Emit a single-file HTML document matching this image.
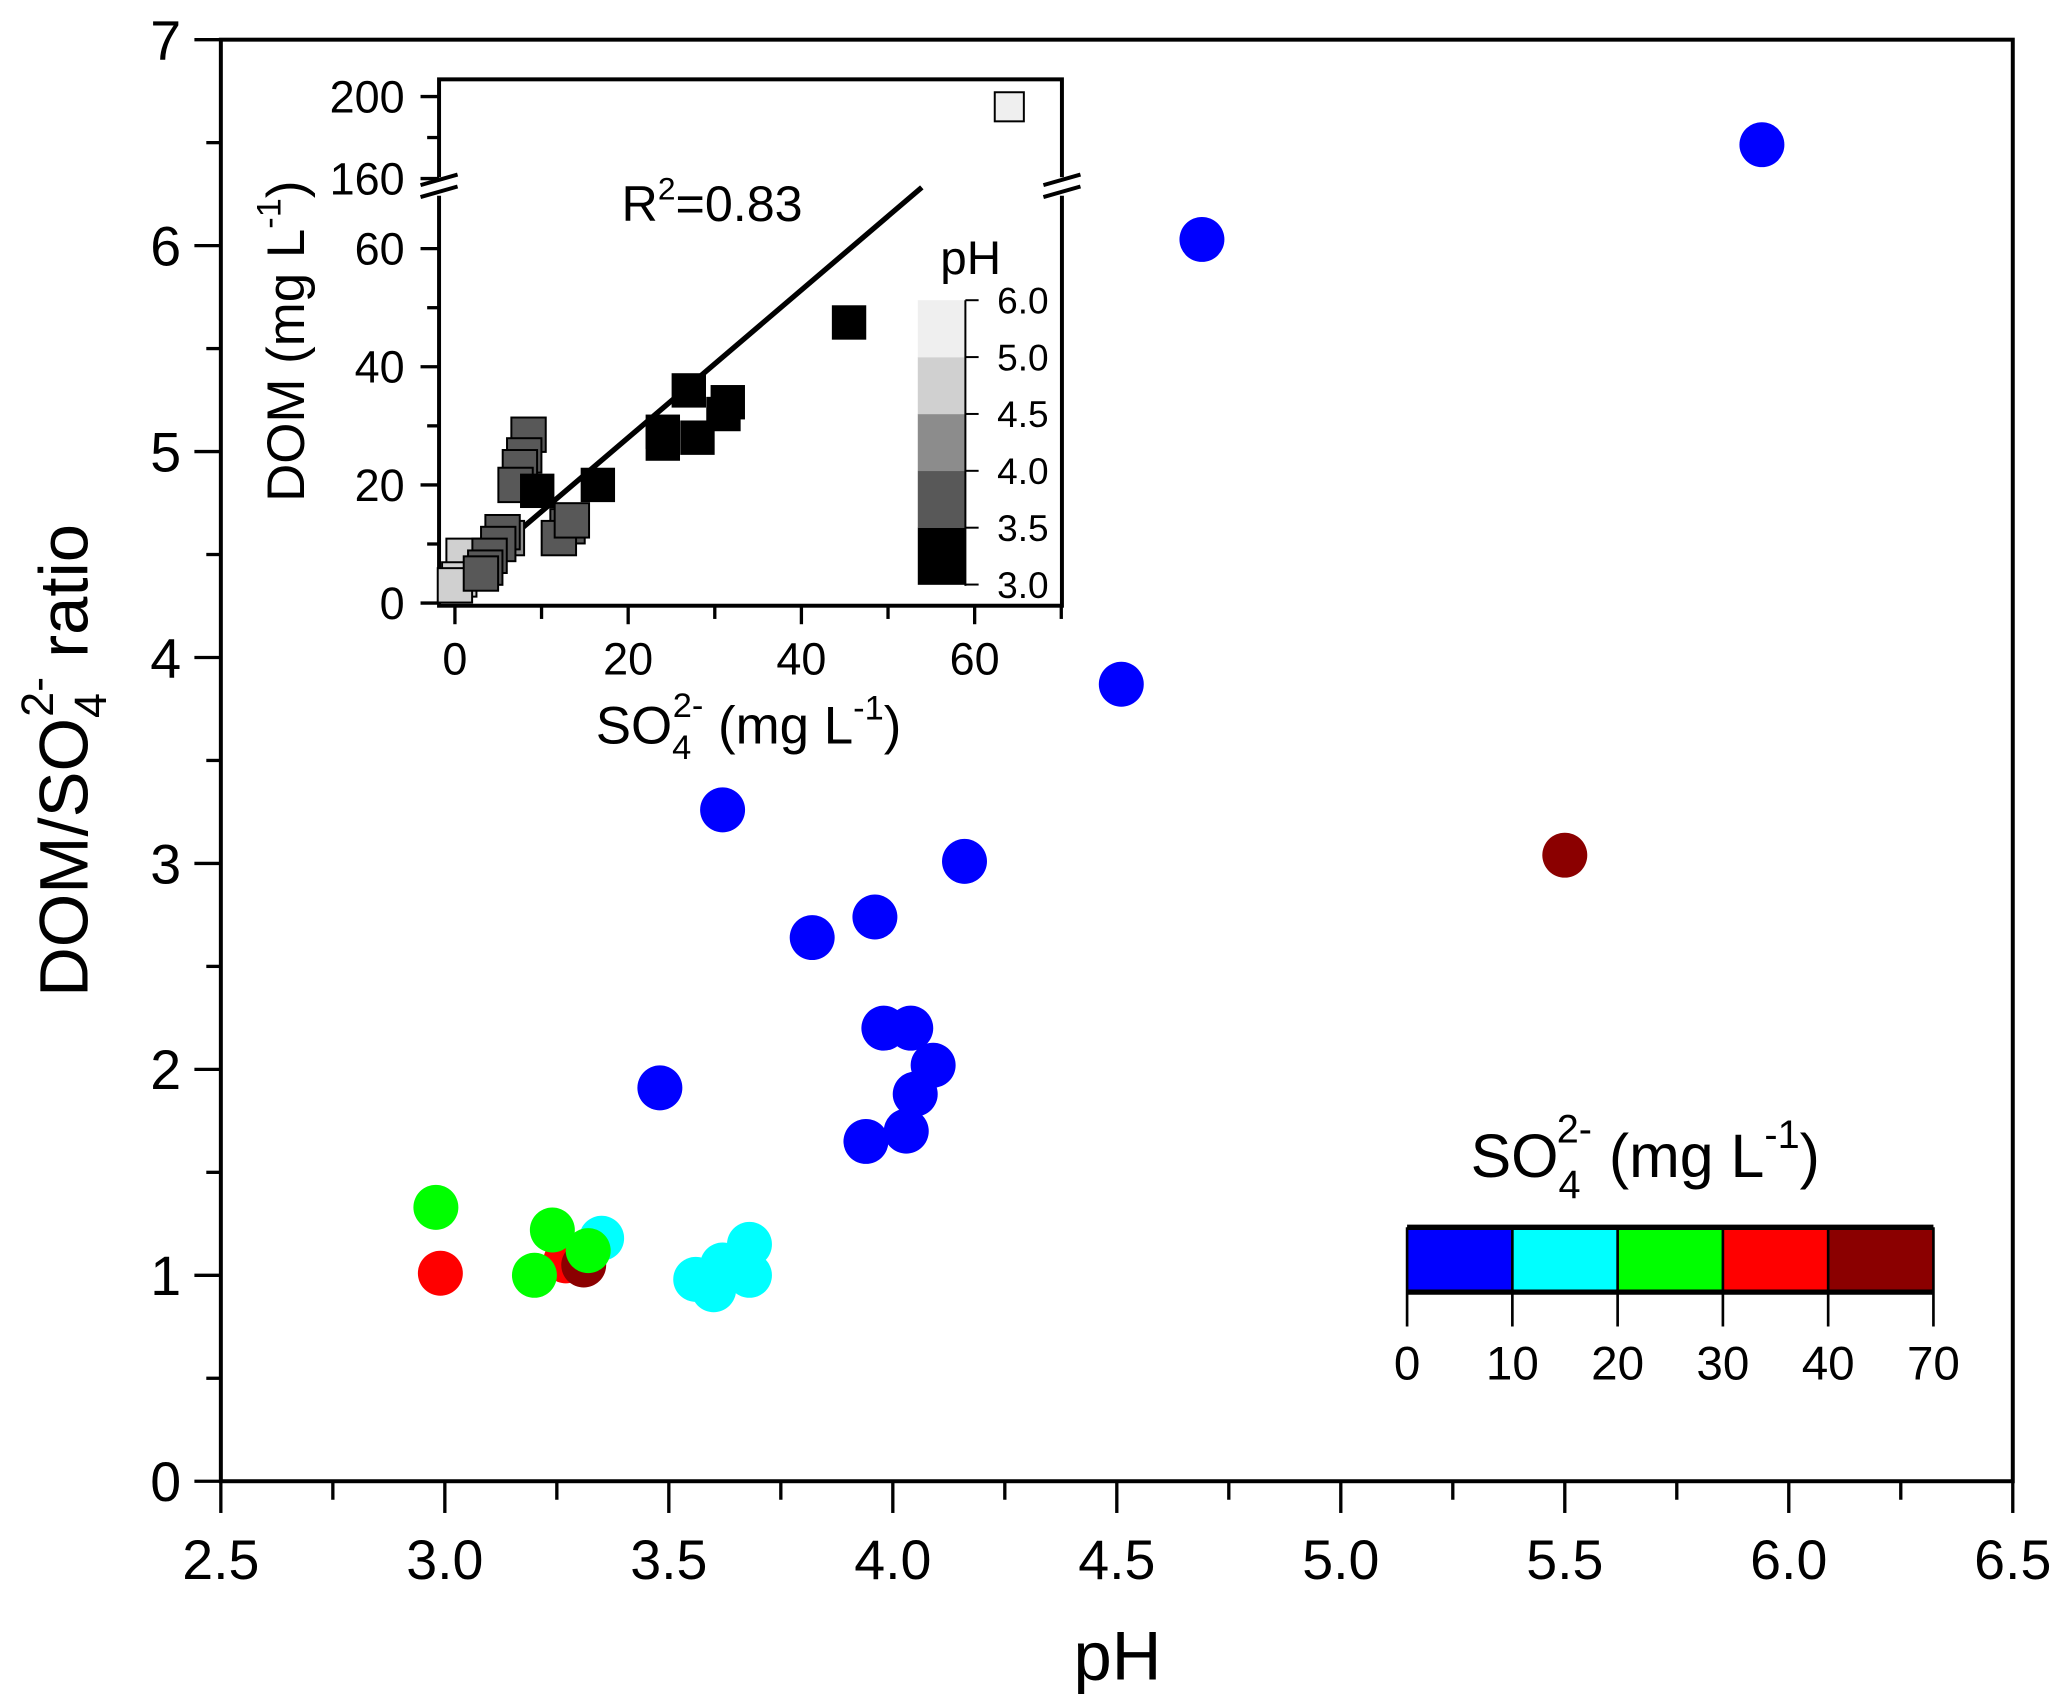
<!DOCTYPE html>
<html><head><meta charset="utf-8"><style>
html,body{margin:0;padding:0;background:#fff}
svg{display:block;font-family:"Liberation Sans",Arial,sans-serif}
</style></head><body>
<svg id="chart" width="2067" height="1705" viewBox="0 0 1563 1289.2" preserveAspectRatio="none" xmlns="http://www.w3.org/2000/svg">
<g id="main"></g>
<g id="inset"></g>
<g id="legend"></g>
</svg>
<script>
// Main chart data
const mainPH = [5.94,4.69,4.51,3.62,4.16,3.96,3.82,3.98,4.04,4.09,4.05,3.48,3.94,4.03, 3.35,3.56,3.60,3.62,3.68,3.68, 2.99,3.27, 5.50,3.31, 2.98,3.24,3.20,3.32];
const mainRatio = [6.49,6.03,3.87,3.26,3.01,2.74,2.64,2.20,2.20,2.02,1.88,1.91,1.65,1.70, 1.18,0.98,0.93,1.05,1.15,1.00, 1.01,1.07, 3.04,1.05, 1.33,1.22,1.00,1.12];
const mainClass = [0,0,0,0,0,0,0,0,0,0,0,0,0,0, 1,1,1,1,1,1, 3,3, 4,4, 2,2,2,2];
const classColors = ["#0000ff","#00ffff","#00ff00","#ff0000","#8b0000"];
const legendLabels = ["0","10","20","30","40","70"];
const xTicks = [2.5,3.0,3.5,4.0,4.5,5.0,5.5,6.0,6.5];
const yTicks = [0,1,2,3,4,5,6,7];
// Inset data
const insetSO4 = [45.5,27,24,24,28,31,31.5,16.5,9.5, 8.5,8,7.5,7,13,12,13.5,5.5,5,4,3.5,3, 6, 1,0.5,0, 64];
const insetDOM = [47.5,36,29,27,28,32,34,20,19, 28.5,25,23,20,13,11,14,12,10,8,6,5, 11, 8,4,3, 195];
const insetPH = [3.2,3.2,3.2,3.2,3.2,3.2,3.2,3.2,3.2, 3.7,3.7,3.7,3.7,3.7,3.7,3.7,3.7,3.7,3.7,3.7,3.7, 4.2, 4.7,4.7,4.7, 5.5];
const insetXTicks = [0,20,40,60];
const insetYTicksLow = [0,20,40,60];
const insetYTicksHigh = [160,200];
const phBands = [3.0,3.5,4.0,4.5,5.0,6.0];
const phBandColors = ["#000000","#585858","#8c8c8c","#d0d0d0","#efefef"];
const fitSlope = 1.25, fitIntercept = 3;

const NS="http://www.w3.org/2000/svg";
function mk(parent,tag,attrs,text){const e=document.createElementNS(NS,tag);for(const k in attrs)e.setAttribute(k,attrs[k]);if(text!==undefined)e.textContent=text;parent.appendChild(e);return e;}

const L=167,R=1522,T=30,B=1120;
const xs=v=>L+(v-2.5)/4*(R-L);
const ys=v=>B-v/7*(B-T);
const main=document.getElementById('main');
let fr=mk(main,'rect',{x:L,y:T,width:R-L,height:B-T,fill:'none',stroke:'#000','stroke-width':3});


for(let i=0;i<xTicks.length;i++){
  const x=xs(xTicks[i]);
  mk(main,'line',{x1:x,y1:B,x2:x,y2:B+24,stroke:'#000','stroke-width':2.5});
  if(i<xTicks.length-1){const xm=xs(xTicks[i]+0.25);mk(main,'line',{x1:xm,y1:B,x2:xm,y2:B+14,stroke:'#000','stroke-width':2.5});}
  const t=mk(main,'text',{x:x,y:B+74,'font-size':42,'text-anchor':'middle'},xTicks[i].toFixed(1));
  
  
}
for(let i=0;i<yTicks.length;i++){
  const y=ys(yTicks[i]);
  mk(main,'line',{x1:L-20,y1:y,x2:L,y2:y,stroke:'#000','stroke-width':2.5});
  if(i<yTicks.length-1){const ym=ys(yTicks[i]+0.5);mk(main,'line',{x1:L-11,y1:ym,x2:L,y2:ym,stroke:'#000','stroke-width':2.5});}
  const t=mk(main,'text',{x:L-30,y:y+15,'font-size':42,'text-anchor':'end'},String(yTicks[i]));
  
  
}
let xt=mk(main,'text',{x:845,y:1270,'font-size':52,'text-anchor':'middle'},'pH');


let yt=mk(main,'text',{transform:'translate(66,575) rotate(-90)','font-size':52,'text-anchor':'middle'});


yt.innerHTML='DOM/SO<tspan font-size="34" dy="14">4</tspan><tspan font-size="34" dy="-40" dx="-18">2-</tspan><tspan dy="26"> ratio</tspan>';
const order=[0,1,3,4,2];
for(const c of order){
  for(let i=0;i<mainPH.length;i++){
    if(mainClass[i]!==c)continue;
    const p=mk(main,'circle',{cx:xs(mainPH[i]),cy:ys(mainRatio[i]),r:17,fill:classColors[c]});
    
    
  }
}

const inset=document.getElementById('inset');
const IL=332,IR=803,IT=60,IB=458;
const ix=v=>344+v/60*(737-344);
const iyLow=v=>456-v/60*(456-188);
const iyHigh=v=>135-(v-160)/40*(135-73);
const iy=v=>v>100?iyHigh(v):iyLow(v);
let ifr=mk(inset,'rect',{x:IL,y:IT,width:IR-IL,height:IB-IT,fill:'#fff',stroke:'#000','stroke-width':3});


for(const bx of [IL,IR]){
  mk(inset,'rect',{x:bx-12,y:134,width:24,height:14,fill:'#fff'});
  mk(inset,'line',{x1:bx-14,y1:140,x2:bx+14,y2:132,stroke:'#000','stroke-width':3});
  mk(inset,'line',{x1:bx-14,y1:149,x2:bx+14,y2:141,stroke:'#000','stroke-width':3});
}
for(const v of insetXTicks){
  const x=ix(v);
  mk(inset,'line',{x1:x,y1:IB,x2:x,y2:IB+14,stroke:'#000','stroke-width':2.5});
  const xm=ix(v+10); if(xm<IR) mk(inset,'line',{x1:xm,y1:IB,x2:xm,y2:IB+10,stroke:'#000','stroke-width':2.5});
  const t=mk(inset,'text',{x:x,y:IB+52,'font-size':34,'text-anchor':'middle'},String(v));
  
  
}
for(const v of insetYTicksLow.concat(insetYTicksHigh)){
  const y=iy(v);
  mk(inset,'line',{x1:IL-14,y1:y,x2:IL,y2:y,stroke:'#000','stroke-width':2.5});
  const t=mk(inset,'text',{x:IL-26,y:y+12,'font-size':34,'text-anchor':'end'},String(v));
  
  
}
for(const v of [10,30,50]) mk(inset,'line',{x1:IL-9,y1:iyLow(v),x2:IL,y2:iyLow(v),stroke:'#000','stroke-width':2.5});
mk(inset,'line',{x1:IL-9,y1:iyHigh(180),x2:IL,y2:iyHigh(180),stroke:'#000','stroke-width':2.5});
let ixt=mk(inset,'text',{x:566,y:562,'font-size':40,'text-anchor':'middle'});


ixt.innerHTML='SO<tspan font-size="26" dy="12">4</tspan><tspan font-size="26" dy="-32" dx="-14">2-</tspan><tspan dy="20"> (mg L</tspan><tspan font-size="26" dy="-18">-1</tspan><tspan dy="18">)</tspan>';
let iyt=mk(inset,'text',{transform:'translate(230,258) rotate(-90)','font-size':40,'text-anchor':'middle'});


iyt.innerHTML='DOM (mg L<tspan font-size="26" dy="-18">-1</tspan><tspan dy="18">)</tspan>';
let fl=mk(inset,'line',{x1:ix(0),y1:iy(fitIntercept),x2:ix(53.9),y2:iyLow(fitIntercept+fitSlope*53.9),stroke:'#000','stroke-width':4});


let r2=mk(inset,'text',{x:470,y:167,'font-size':38});


r2.innerHTML='R<tspan font-size="24" dy="-16">2</tspan><tspan dy="16">=0.83</tspan>';
function phColor(p){for(let k=0;k<phBandColors.length;k++){if(p<phBands[k+1])return phBandColors[k];}return phBandColors[phBandColors.length-1];}
const idx=insetSO4.map((_,i)=>i).sort((a,b)=>insetPH[b]-insetPH[a]);
for(const i of idx){
  const s=insetSO4[i]>60?22:26;
  const q=mk(inset,'rect',{x:ix(insetSO4[i])-s/2,y:iy(insetDOM[i])-s/2,width:s,height:s,fill:phColor(insetPH[i]),stroke:insetPH[i]<3.5?'none':'#000','stroke-width':1.5});
  
  
}
const pt=mk(inset,'text',{x:734,y:207,'font-size':36,'text-anchor':'middle'},'pH');


const cbY=v=>442-(phBands.indexOf(v))*43;
for(let k=0;k<phBandColors.length;k++){
  const b=mk(inset,'rect',{x:694,y:cbY(phBands[k+1]),width:36,height:43.2,fill:phBandColors[k]});
  
  
}
mk(inset,'line',{x1:730,y1:227,x2:730,y2:443,stroke:'#000','stroke-width':1.5});
for(const v of phBands){
  const y=cbY(v);
  mk(inset,'line',{x1:730,y1:y,x2:740,y2:y,stroke:'#000','stroke-width':1.5});
  const t=mk(inset,'text',{x:754,y:y+10,'font-size':28},v.toFixed(1));
  
  
}

const lg=document.getElementById('legend');
const lx0=1064,lw=79.6;
let lt=mk(lg,'text',{x:1112,y:890,'font-size':46});


lt.innerHTML='SO<tspan font-size="30" dy="16">4</tspan><tspan font-size="30" dy="-42" dx="-18">2-</tspan><tspan dy="26"> (mg L</tspan><tspan font-size="30" dy="-22">-1</tspan><tspan dy="22">)</tspan>';
for(let k=0;k<classColors.length;k++){
  const b=mk(lg,'rect',{x:lx0+k*lw,y:928,width:lw,height:49,fill:classColors[k]});
  
  
}
mk(lg,'line',{x1:lx0,y1:928,x2:lx0+5*lw,y2:928,stroke:'#000','stroke-width':4});
mk(lg,'line',{x1:lx0,y1:977,x2:lx0+5*lw,y2:977,stroke:'#000','stroke-width':4});
for(let k=0;k<legendLabels.length;k++){
  const x=lx0+k*lw;
  mk(lg,'line',{x1:x,y1:928,x2:x,y2:1003,stroke:'#000','stroke-width':2});
  const t=mk(lg,'text',{x:x,y:1043,'font-size':36,'text-anchor':'middle'},legendLabels[k]);
  
  
}
</script>
</body></html>
